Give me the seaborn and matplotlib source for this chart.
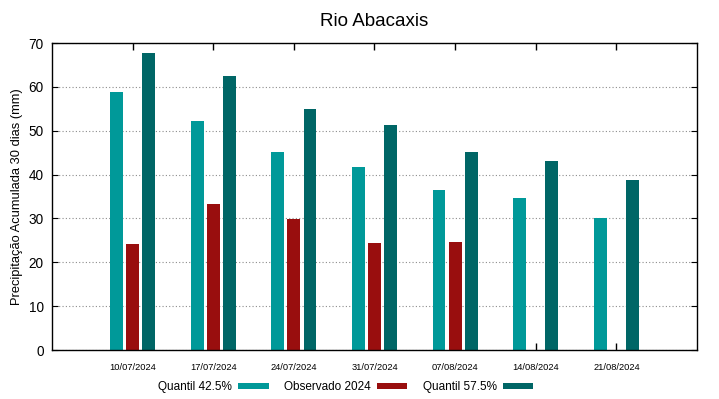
import pandas as pd
import numpy as np
import seaborn as sns
import matplotlib
matplotlib.use("Agg")
import matplotlib.pyplot as plt
from matplotlib.patches import Patch

# dados
datas = ["10/07/2024", "17/07/2024", "24/07/2024", "31/07/2024",
         "07/08/2024", "14/08/2024", "21/08/2024"]
quantil_425 = [58.9, 52.2, 45.2, 41.8, 36.5, 34.7, 30.1]
observado_2024 = [24.1, 33.3, 29.8, 24.3, 24.6, None, None]
quantil_575 = [67.8, 62.5, 55.0, 51.4, 45.2, 43.0, 38.7]

series = ["Quantil 42.5%", "Observado 2024", "Quantil 57.5%"]
cores = ["#009999", "#990e0e", "#006666"]

linhas = []
for nome, valores in zip(series, [quantil_425, observado_2024, quantil_575]):
    for d, v in zip(datas, valores):
        if v is not None:
            linhas.append({"data": d, "serie": nome, "valor": v})
df = pd.DataFrame(linhas)

sns.set_style("white")
plt.rcParams["font.family"] = ["Liberation Sans", "DejaVu Sans"]
plt.rcParams["text.color"] = "black"
plt.rcParams["axes.labelcolor"] = "black"
plt.rcParams["xtick.color"] = "black"
plt.rcParams["ytick.color"] = "black"

fig = plt.figure(figsize=(7.19, 3.99), dpi=100)
ax = fig.add_axes([0.0723, 0.1228, 0.8971, 0.7694])

sns.barplot(data=df, x="data", y="valor", hue="serie", order=datas,
            hue_order=series, palette=cores, width=0.6, gap=0.2,
            saturation=1, errorbar=None, legend=False, ax=ax,
            edgecolor="none")

ax.set_xlim(-1, 7)
ax.set_ylim(0, 70)
ax.set_yticks(range(0, 71, 10))
ax.yaxis.grid(True, color="#8c8c8c", linestyle=(0, (1, 2)), linewidth=0.8)
ax.set_axisbelow(True)

for s in ax.spines.values():
    s.set_visible(True)
    s.set_color("black")
    s.set_linewidth(1.0)

ax.tick_params(axis="x", direction="in", top=True, bottom=True, length=5,
               width=1, labelsize=6.7, pad=9)
ax.tick_params(axis="y", direction="in", left=True, right=True, length=4,
               width=0.8, labelsize=9.8, pad=6)

ax.set_xlabel("")
ax.set_ylabel("Precipitação Acumulada 30 dias (mm)", fontsize=9.3, labelpad=4)
ax.set_title("Rio Abacaxis", fontsize=13.5, pad=12)

handles = [Patch(facecolor=c, edgecolor="none", label=n) for n, c in zip(series, cores)]
fig.legend(handles=handles, loc="center", bbox_to_anchor=(0.481, 0.030),
           ncol=3, frameon=False, markerfirst=False, fontsize=8.5,
           handlelength=2.6, handleheight=0.45, handletextpad=0.5,
           columnspacing=1.3)

plt.savefig("out.png", dpi=100)
